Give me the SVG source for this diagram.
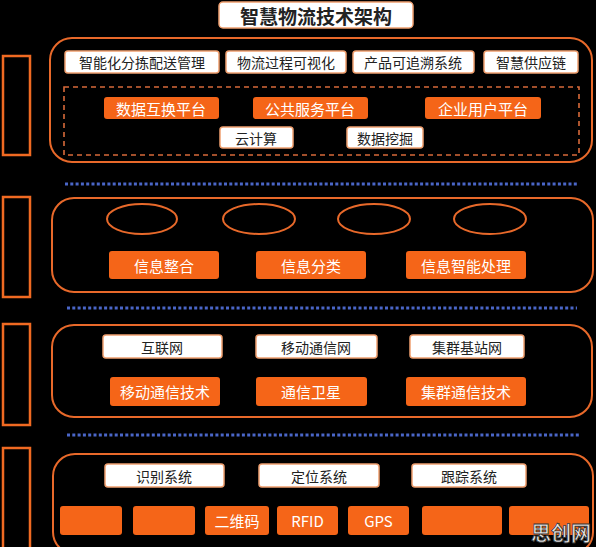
<svg xmlns="http://www.w3.org/2000/svg" width="596" height="547" viewBox="0 0 596 547">
<defs>
<style>
text{font-family:"Noto Sans CJK SC","Noto Sans",sans-serif;text-anchor:middle;dominant-baseline:central}
.side{fill:#000;stroke:#f06a22;stroke-width:2.5}
.sec{fill:#000;stroke:#e8692a;stroke-width:2}
.wb{fill:#fff;stroke:#f0a070;stroke-width:1.5}
.ob{fill:#f56518;stroke:none}
.wt{fill:#222;font-size:14px}
.ot{fill:#fff;font-size:15px}
.ell{fill:none;stroke:#e8692a;stroke-width:2}
.dot{stroke:#4a66c8;stroke-width:3;stroke-dasharray:3 2.3}
.dash{fill:none;stroke:#d86a3a;stroke-width:1.6;stroke-dasharray:5 4}
</style>
</defs>
<rect width="596" height="547" fill="#000"/>
<g id="title"><rect x="219" y="2" width="194" height="26" rx="4" fill="#fff" stroke="#f0a070" stroke-width="1.5"/><text x="316" y="15" style="font-size:19px;font-weight:bold;fill:#222">智慧物流技术架构</text></g>
<g id="side-bars">
<rect class="side" x="3" y="56" width="27" height="99"/>
<rect class="side" x="3" y="197" width="27" height="100"/>
<rect class="side" x="3" y="324" width="27" height="101"/>
<rect class="side" x="3" y="448" width="27" height="110"/>
</g>
<g id="separators">
<line class="dot" x1="65" y1="184" x2="577" y2="184"/>
<line class="dot" x1="67" y1="308" x2="577" y2="308"/>
<line class="dot" x1="67" y1="435" x2="580" y2="435"/>
</g>
<g id="layer-app">
<rect class="sec" x="50" y="38" width="542" height="124" rx="22"/>
<rect class="dash" x="64" y="87" width="515" height="68"/>
<g id="n-sort"><rect class="wb" x="65" y="51" width="154" height="22" rx="3"/><text class="wt" x="142" y="62">智能化分拣配送管理</text></g>
<g id="n-visual"><rect class="wb" x="226" y="51" width="120" height="22" rx="3"/><text class="wt" x="286" y="62">物流过程可视化</text></g>
<g id="n-trace"><rect class="wb" x="353" y="51" width="121" height="22" rx="3"/><text class="wt" x="413" y="62">产品可追溯系统</text></g>
<g id="n-supply"><rect class="wb" x="484" y="51" width="94" height="22" rx="3"/><text class="wt" x="531" y="62">智慧供应链</text></g>
<g id="n-exchange"><rect class="ob" x="104" y="97" width="115" height="22" rx="3"/><text class="ot" x="161" y="108">数据互换平台</text></g>
<g id="n-public"><rect class="ob" x="253" y="97" width="115" height="22" rx="3"/><text class="ot" x="310" y="108">公共服务平台</text></g>
<g id="n-enterprise"><rect class="ob" x="425" y="97" width="116" height="22" rx="3"/><text class="ot" x="483" y="108">企业用户平台</text></g>
<g id="n-cloud"><rect class="wb" x="220" y="127" width="73" height="21" rx="3"/><text class="wt" x="256" y="137.5">云计算</text></g>
<g id="n-mining"><rect class="wb" x="347" y="127" width="76" height="21" rx="3"/><text class="wt" x="385" y="137.5">数据挖掘</text></g>
</g>
<g id="layer-info">
<rect class="sec" x="52" y="198" width="541" height="94" rx="22"/>
<ellipse class="ell" cx="142" cy="219" rx="35" ry="15"/>
<ellipse class="ell" cx="259" cy="219" rx="36" ry="15"/>
<ellipse class="ell" cx="374" cy="219" rx="36" ry="15"/>
<ellipse class="ell" cx="490" cy="219" rx="36" ry="15"/>
<g id="n-integrate"><rect class="ob" x="109" y="251" width="110" height="28" rx="3"/><text class="ot" x="164" y="265">信息整合</text></g>
<g id="n-classify"><rect class="ob" x="256" y="251" width="110" height="28" rx="3"/><text class="ot" x="311" y="265">信息分类</text></g>
<g id="n-smart"><rect class="ob" x="406" y="251" width="120" height="28" rx="3"/><text class="ot" x="466" y="265">信息智能处理</text></g>
</g>
<g id="layer-net">
<rect class="sec" x="52" y="325" width="540" height="92" rx="22"/>
<g id="n-internet"><rect class="wb" x="103" y="335" width="119" height="23" rx="3"/><text class="wt" x="162" y="346.5">互联网</text></g>
<g id="n-mobile-net"><rect class="wb" x="256" y="335" width="121" height="23" rx="3"/><text class="wt" x="316" y="346.5">移动通信网</text></g>
<g id="n-cluster-net"><rect class="wb" x="410" y="335" width="114" height="23" rx="3"/><text class="wt" x="467" y="346.5">集群基站网</text></g>
<g id="n-mobile-tech"><rect class="ob" x="110" y="377" width="110" height="29" rx="3"/><text class="ot" x="165" y="391.5">移动通信技术</text></g>
<g id="n-satellite"><rect class="ob" x="256" y="377" width="111" height="29" rx="3"/><text class="ot" x="311" y="391.5">通信卫星</text></g>
<g id="n-cluster-tech"><rect class="ob" x="406" y="377" width="120" height="29" rx="3"/><text class="ot" x="466" y="391.5">集群通信技术</text></g>
</g>
<g id="layer-sense">
<rect class="sec" x="53" y="454" width="540" height="100" rx="22"/>
<g id="n-identify"><rect class="wb" x="105" y="464" width="119" height="23" rx="3"/><text class="wt" x="164" y="475.5">识别系统</text></g>
<g id="n-locate"><rect class="wb" x="259" y="464" width="120" height="23" rx="3"/><text class="wt" x="319" y="475.5">定位系统</text></g>
<g id="n-track"><rect class="wb" x="412" y="464" width="114" height="23" rx="3"/><text class="wt" x="469" y="475.5">跟踪系统</text></g>
<g id="n-b1"><rect class="ob" x="60" y="506" width="62" height="29" rx="3"/></g>
<g id="n-b2"><rect class="ob" x="133" y="506" width="62" height="29" rx="3"/></g>
<g id="n-qr"><rect class="ob" x="205" y="506" width="64" height="29" rx="3"/><text class="ot" x="237" y="520.5">二维码</text></g>
<g id="n-rfid"><rect class="ob" x="277" y="506" width="61" height="29" rx="3"/><text class="ot" x="307.5" y="520.5">RFID</text></g>
<g id="n-gps"><rect class="ob" x="348" y="506" width="61" height="29" rx="3"/><text class="ot" x="378.5" y="520.5">GPS</text></g>
<g id="n-b6"><rect class="ob" x="422" y="506" width="80" height="29" rx="3"/></g>
<g id="n-b7"><rect class="ob" x="509" y="506" width="80" height="29" rx="3"/></g>
</g>
<text x="561" y="532" style="font-size:20px;font-weight:bold;fill:#e8e8e8;stroke:#333;stroke-width:0.8">思创网</text>
</svg>
